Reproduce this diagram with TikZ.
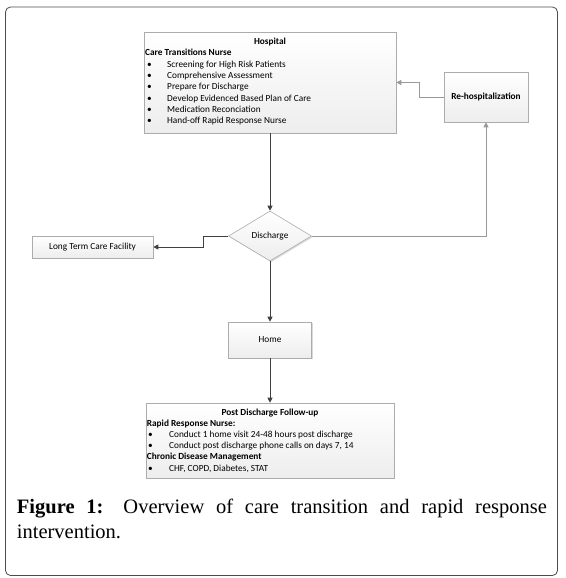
\documentclass[tikz,border=0pt]{standalone}
\usepackage{fontspec}
\setmainfont{Carlito}
\newfontfamily\capfont{Liberation Serif}
\usetikzlibrary{shapes.geometric,arrows.meta,shadows}
\begin{document}
\begin{tikzpicture}[x=1pt,y=-1pt,
  box/.style={draw=gray!65, line width=0.6pt, top color=white, bottom color=gray!14,
    drop shadow={shadow xshift=1.2pt, shadow yshift=-1.2pt, fill=gray!50, opacity=0.6},
    inner sep=0pt, font=\fontsize{9.3}{10}\selectfont},
  conn/.style={draw=black!75, line width=0.8pt, -{Triangle[length=5pt,width=5pt]}},
  lconn/.style={conn, draw=gray!80},
  txt/.style={font=\fontsize{9.3}{10}\selectfont, inner sep=0pt, anchor=base west},
  frame/.style={rounded corners=5pt, draw=black!70, line width=0.8pt}]
\useasboundingbox (0,0) rectangle (565,578);
\draw[frame] (5.5,7) rectangle (557.5,575.5);

% boxes
\node[box, minimum width=252pt, minimum height=101pt] (hosp) at (270,82.5) {};
\node[box, minimum width=84pt, minimum height=50pt] (rehosp) at (486,97) {\bfseries Re-hospitalization};
\node[box, diamond, aspect=1.66, minimum width=83pt, minimum height=50pt] (disc) at (270,236) {Discharge};
\node[box, minimum width=121pt, minimum height=22pt] (ltc) at (92.5,247) {Long Term Care Facility};
\node[box, minimum width=83pt, minimum height=36pt] (home) at (270,340) {Home};
\node[box, minimum width=248pt, minimum height=75pt] (post) at (270,440.5) {};

% hospital text
\node[txt, anchor=base] (hosptitle) at (270,45) {\bfseries Hospital};
\node[txt] (ctn) at (145,56) {\bfseries Care Transitions Nurse};
\foreach \t [count=\i] in {Screening for High Risk Patients, Comprehensive Assessment, Prepare for Discharge, Develop Evidenced Based Plan of Care, Medication Reconciation, Hand-off Rapid Response Nurse}
  \node[txt] (hb\i) at (147,56+11.3*\i) {\makebox[20pt][l]{•}\t};

% post discharge text
\node[txt, anchor=base] (posttitle) at (270,415.8) {\bfseries Post Discharge Follow-up};
\node[txt] (rrn) at (146.7,426.4) {\bfseries Rapid Response Nurse:};
\node[txt] (pb1) at (148,437.4) {\makebox[21pt][l]{•}Conduct 1 home visit 24-48 hours post discharge};
\node[txt] (pb2) at (148,448.1) {\makebox[21pt][l]{•}Conduct post discharge phone calls on days 7, 14};
\node[txt] (cdm) at (146.7,459.8) {\bfseries Chronic Disease Management};
\node[txt] (pb3) at (148,471.4) {\makebox[21pt][l]{•}CHF, COPD, Diabetes, STAT};

% connectors
\draw[conn] (hosp.south) -- (disc.north);
\draw[conn] (disc.south) -- (home.north);
\draw[conn] (home.south) -- (post.north);
\draw[conn] (disc.west) -- ++(-25,0) |- (ltc.east);
\draw[lconn] (disc.east) -| (rehosp.south);
\draw[lconn] (rehosp.west) -- ++(-24,0) |- (hosp.east);

% caption
\node[anchor=north west, inner sep=0pt, text width=530pt, align=justify,
  font=\capfont\fontsize{20.5}{24.5}\selectfont] (cap) at (16.7,499)
  {\hyphenpenalty=10000 \textbf{Figure 1:} Overview of care transition and rapid response\linebreak intervention.};
\end{tikzpicture}
\end{document}
